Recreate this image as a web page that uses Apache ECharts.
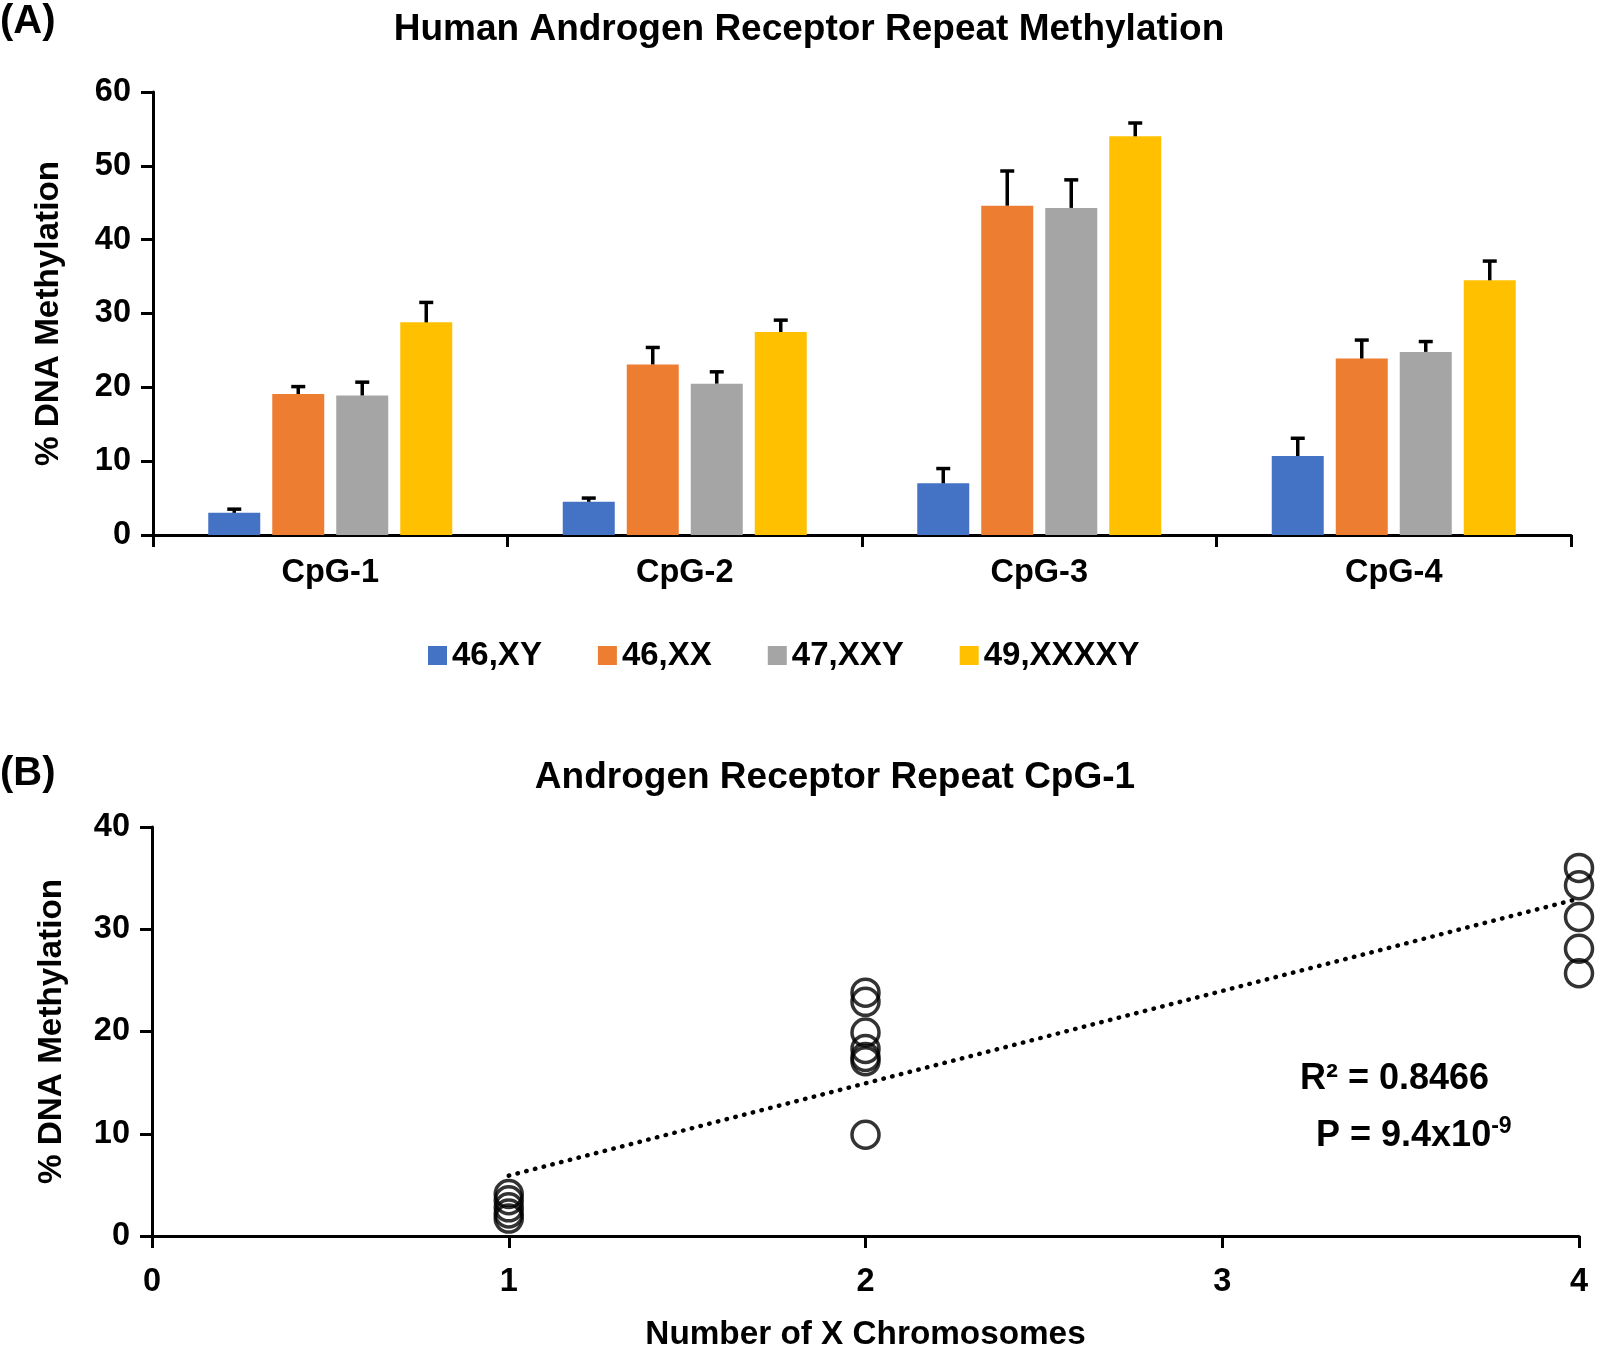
<!DOCTYPE html>
<html><head><meta charset="utf-8">
<script src="https://cdn.jsdelivr.net/npm/echarts@6/dist/echarts.min.js"></script>
<style>html,body{margin:0;padding:0;background:#fff}#c{width:1600px;height:1352px}</style>
</head><body><div id="c"></div>
<script>
// ---- Data ----
const categories = ['CpG-1', 'CpG-2', 'CpG-3', 'CpG-4'];
const groupNames = ['46,XY', '46,XX', '47,XXY', '49,XXXXY'];
const xyValues = [3.0, 4.5, 7.0, 10.7];
const xyErrors = [0.5, 0.5, 2.0, 2.4];
const xxValues = [19.1, 23.1, 44.6, 23.9];
const xxErrors = [1.0, 2.3, 4.7, 2.5];
const xxyValues = [18.9, 20.5, 44.3, 24.8];
const xxyErrors = [1.8, 1.6, 3.8, 1.4];
const xxxxyValues = [28.8, 27.5, 54.0, 34.5];
const xxxxyErrors = [2.7, 1.6, 1.8, 2.6];

const scatterX = [1, 1, 1, 1, 1, 2, 2, 2, 2, 2, 2, 2, 4, 4, 4, 4, 4];
const scatterY = [4.1, 3.5, 2.8, 2.2, 1.7, 23.8, 22.9, 19.9, 18.3, 17.5, 17.1, 9.9, 36.0, 34.3, 31.2, 28.1, 25.7];
const trendX = [1, 4];
const trendY = [5.9, 33.0];

const titleA = 'Human Androgen Receptor Repeat Methylation';
const titleB = 'Androgen Receptor Repeat CpG-1';
const yNameA = '% DNA Methylation';
const yNameB = '% DNA Methylation';
const xNameB = 'Number of X Chromosomes';
const r2Text = 'R² = 0.8466';

// ---- Style ----
const FONT = "'Liberation Sans', Arial, Helvetica, sans-serif";
const colors = ['#4472C4', '#ED7D31', '#A5A5A5', '#FFC000'];
const BAR_W = 52, BAR_GAP = 12;
const valuesAll = [xyValues, xxValues, xxyValues, xxxxyValues];
const errorsAll = [xyErrors, xxErrors, xxyErrors, xxxxyErrors];

const axisLine = { show: true, lineStyle: { color: '#000', width: 3 } };
const axisTick = { show: true, length: 12, lineStyle: { color: '#000', width: 3 } };
const lbl = (m) => ({ color: '#000', fontSize: 32.5, fontWeight: 'bold', fontFamily: FONT, margin: m });
const nameStyle = { color: '#000', fontSize: 33.3, fontWeight: 'bold', fontFamily: FONT };
const headStyle = { fontSize: 37, fontWeight: 'bold', color: '#000', fontFamily: FONT };
const panelStyle = { fontSize: 40, fontWeight: 'bold', color: '#000', fontFamily: FONT };

const series = [];
valuesAll.forEach((vals, i) => {
  series.push({
    name: groupNames[i], type: 'bar', xAxisIndex: 0, yAxisIndex: 0,
    data: vals, barWidth: BAR_W, barGap: (BAR_GAP / BAR_W * 100) + '%',
    itemStyle: { color: colors[i] }, z: 2
  });
});
valuesAll.forEach((vals, i) => {
  series.push({
    name: 'err' + i, type: 'custom', xAxisIndex: 0, yAxisIndex: 0, z: 5,
    data: vals.map((v, k) => [k, v, errorsAll[i][k]]),
    encode: { x: 0, y: 1 },
    renderItem: function (params, api) {
      const base = api.coord([api.value(0), api.value(1)]);
      const top = api.coord([api.value(0), api.value(1) + api.value(2)]);
      const x = base[0] + (i - 1.5) * (BAR_W + BAR_GAP);
      const st = { stroke: '#000', lineWidth: 3.5 };
      return {
        type: 'group', children: [
          { type: 'line', shape: { x1: x, y1: base[1], x2: x, y2: top[1] }, style: st },
          { type: 'line', shape: { x1: x - 7, y1: top[1], x2: x + 7, y2: top[1] }, style: st }
        ]
      };
    }
  });
});
series.push({
  name: 'samples', type: 'scatter', xAxisIndex: 1, yAxisIndex: 1,
  data: scatterX.map((x, k) => [x, scatterY[k]]),
  symbol: 'circle', symbolSize: 27,
  itemStyle: { color: 'rgba(0,0,0,0)', borderColor: '#000', borderWidth: 3.5 }, z: 4
});
series.push({
  name: 'trend', type: 'line', xAxisIndex: 1, yAxisIndex: 1,
  data: trendX.map((x, k) => [x, trendY[k]]), symbol: 'none',
  lineStyle: { color: '#000', width: 4.5, type: [0.5, 8.5], cap: 'round' }, z: 3
});

const option = {
  animation: false,
  backgroundColor: '#fff',
  textStyle: { fontFamily: FONT },
  title: [
    { text: '(A)', left: 0, top: 2, padding: 0, textStyle: panelStyle },
    { text: titleA, left: 809, top: 11, textAlign: 'center', padding: 0, textStyle: headStyle },
    { text: '(B)', left: 0, top: 754, padding: 0, textStyle: panelStyle },
    { text: titleB, left: 835, top: 759, textAlign: 'center', padding: 0, textStyle: headStyle }
  ],
  legend: {
    data: groupNames, left: 423, top: 634, itemWidth: 19, itemHeight: 19, itemGap: 56, icon: 'rect',
    textStyle: { fontSize: 33, fontWeight: 'bold', color: '#000', fontFamily: FONT }
  },
  grid: [
    { left: 153, top: 92, width: 1418, height: 443, containLabel: false },
    { left: 152, top: 827, width: 1427, height: 411, containLabel: false }
  ],
  xAxis: [
    { type: 'category', gridIndex: 0, data: categories, axisLine, axisTick, axisLabel: lbl(22), splitLine: { show: false } },
    { type: 'value', gridIndex: 1, min: 0, max: 4, interval: 1, axisLine, axisTick, axisLabel: lbl(30), splitLine: { show: false },
      name: xNameB, nameLocation: 'middle', nameGap: 82, nameTextStyle: nameStyle }
  ],
  yAxis: [
    { type: 'value', gridIndex: 0, min: 0, max: 60, interval: 10, axisLine, axisTick, axisLabel: lbl(22), splitLine: { show: false },
      name: yNameA, nameLocation: 'middle', nameGap: 88, nameTextStyle: nameStyle },
    { type: 'value', gridIndex: 1, min: 0, max: 40, interval: 10, axisLine, axisTick, axisLabel: lbl(22), splitLine: { show: false },
      name: yNameB, nameLocation: 'middle', nameGap: 84, nameTextStyle: nameStyle }
  ],
  graphic: [
    { type: 'text', left: 1300, top: 1061, style: { text: r2Text, fill: '#000', font: 'bold 36px ' + FONT } },
    { type: 'text', left: 1316, top: 1115, style: {
        text: '{a|P = 9.4x10}{s|-9}',
        rich: {
          a: { fontSize: 36, fontWeight: 'bold', fontFamily: FONT, fill: '#000', color: '#000', lineHeight: 42 },
          s: { fontSize: 23, fontWeight: 'bold', fontFamily: FONT, fill: '#000', color: '#000', verticalAlign: 'top', lineHeight: 42, padding: [0, 0, 14, 0] }
        }
      } }
  ],
  series
};
const chart = echarts.init(document.getElementById('c'), null, { renderer: 'canvas' });
chart.setOption(option);
</script>
</body></html>
